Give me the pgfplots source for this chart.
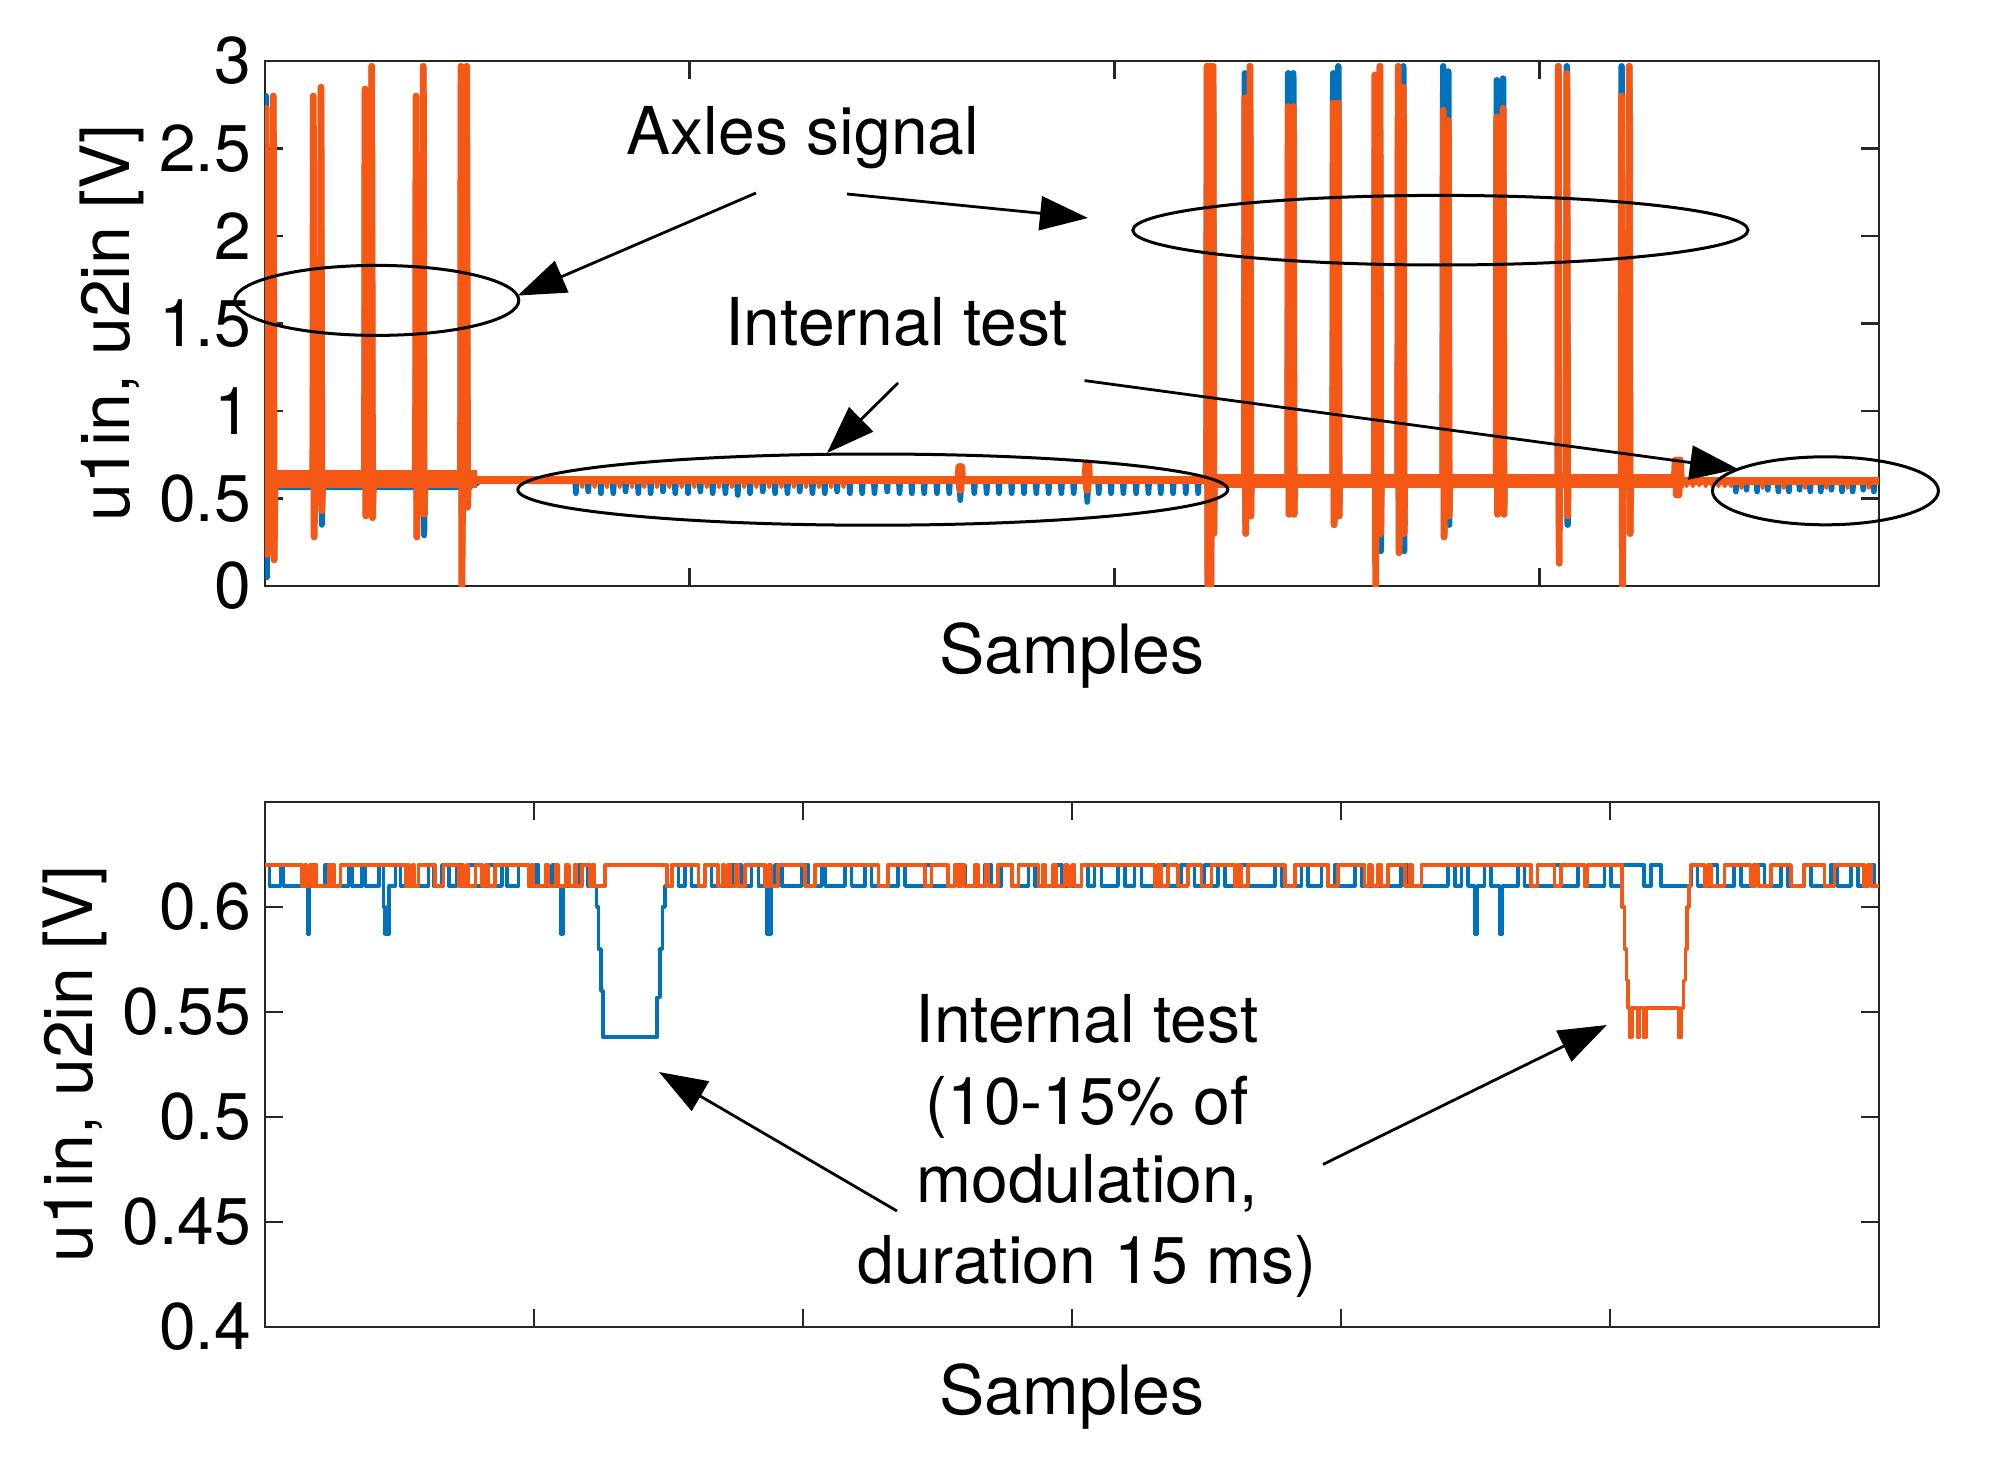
\documentclass[border=0pt]{standalone}
\usepackage{fontspec}
\setmainfont{TeX Gyre Heros}
\usepackage{pgfplots}
\pgfplotsset{compat=1.18}
\usetikzlibrary{arrows.meta}
\definecolor{mblue}{RGB}{0,114,189}
\definecolor{morange}{RGB}{245,88,20}
\newcommand{\fs}{\fontsize{16.5}{19.8}\selectfont}
\pgfplotsset{
 sigaxis/.style={
  scale only axis, width=403.5pt, height=131.25pt, anchor=south west,
  axis line style={line width=0.7pt, black!85},
  every tick/.style={line width=0.7pt, black!85},
  major tick length=4.5pt,
  tick align=inside,
  ticklabel style={font=\fs, text=black},
  /pgf/number format/assume math mode=true,
  xlabel={Samples},
  xlabel style={at={(axis description cs:0.5,0)}, anchor=north, inner sep=0pt, yshift=-9pt, font=\fontsize{17}{20}\selectfont},
  ylabel={u1in, u2in [V]},
  ylabel style={font=\fontsize{17}{20}\selectfont},
  ylabel shift=-3pt,
  every axis plot/.append style={line join=round, line cap=round},
 }
}
\begin{document}
\begin{tikzpicture}[x=1pt,y=1pt]
\useasboundingbox (0,0) rectangle (497.25,365);
% ---------------- top axis ----------------
\begin{axis}[sigaxis, at={(66.25pt,218.5pt)},
  xmin=0, xmax=3.8, ymin=0, ymax=3,
  xtick={1,2,3}, xticklabels={,,},
  ytick={0,0.5,1,1.5,2,2.5,3}, yticklabels={0,0.5,1,1.5,2,2.5,3}]
% blue, left group
\addplot[mblue, line width=1.5pt] coordinates {
(0,0.6)(0.0024,2.8)(0.0044,0.05)(0.0064,0.565)
(0.0185,0.565)(0.0195,2.8)(0.0215,0.15)(0.0235,0.565)
(0.1127,0.565)(0.1137,2.37)(0.1157,0.35)(0.1177,0.565)
(0.1308,0.565)(0.1318,2.85)(0.1338,0.35)(0.1358,0.565)
(0.2344,0.565)(0.2354,2.84)(0.2374,0.40)(0.2394,0.565)
(0.2502,0.565)(0.2512,2.97)(0.2532,0.40)(0.2552,0.565)
(0.3545,0.565)(0.3555,2.14)(0.3575,0.28)(0.3595,0.565)
(0.3717,0.565)(0.3727,2.97)(0.3747,0.29)(0.3767,0.565)
(0.4605,0.565)(0.4615,2.97)(0.4635,0.0)(0.4655,0.565)
(0.4739,0.565)(0.4749,2.97)(0.4769,0.45)(0.4789,0.565)(0.50,0.59)};
% blue, middle comb
\addplot[mblue, line width=1.4pt] coordinates {
(0.50,0.60)
(0.730,0.60)(0.732,0.53)(0.734,0.60)(0.759,0.60)(0.761,0.54)(0.763,0.60)
(0.789,0.60)(0.791,0.53)(0.793,0.60)(0.818,0.60)(0.820,0.53)(0.822,0.60)
(0.847,0.60)(0.849,0.54)(0.851,0.60)(0.877,0.60)(0.879,0.53)(0.881,0.60)
(0.906,0.60)(0.908,0.53)(0.910,0.60)(0.935,0.60)(0.937,0.54)(0.939,0.60)
(0.964,0.60)(0.966,0.53)(0.968,0.60)(0.994,0.60)(0.996,0.53)(0.998,0.60)
(1.023,0.60)(1.025,0.54)(1.027,0.60)(1.052,0.60)(1.054,0.53)(1.056,0.60)
(1.082,0.60)(1.084,0.53)(1.086,0.60)(1.111,0.60)(1.113,0.52)(1.115,0.60)
(1.140,0.60)(1.142,0.53)(1.144,0.60)(1.170,0.60)(1.172,0.54)(1.174,0.60)
(1.199,0.60)(1.201,0.53)(1.203,0.60)(1.228,0.60)(1.230,0.53)(1.232,0.60)
(1.257,0.60)(1.259,0.54)(1.261,0.60)(1.287,0.60)(1.289,0.53)(1.291,0.60)
(1.316,0.60)(1.318,0.53)(1.320,0.60)(1.345,0.60)(1.347,0.54)(1.349,0.60)
(1.375,0.60)(1.377,0.53)(1.379,0.60)(1.404,0.60)(1.406,0.53)(1.408,0.60)
(1.433,0.60)(1.435,0.53)(1.437,0.60)(1.463,0.60)(1.465,0.54)(1.467,0.60)
(1.492,0.60)(1.494,0.53)(1.496,0.60)(1.521,0.60)(1.523,0.53)(1.525,0.60)
(1.550,0.60)(1.552,0.53)(1.554,0.60)(1.580,0.60)(1.582,0.53)(1.584,0.60)
(1.609,0.60)(1.611,0.53)(1.613,0.60)(1.634,0.60)(1.637,0.49)(1.640,0.60)
(1.668,0.60)(1.670,0.53)(1.672,0.60)(1.697,0.60)(1.699,0.53)(1.701,0.60)
(1.726,0.60)(1.728,0.53)(1.730,0.60)(1.756,0.60)(1.758,0.53)(1.760,0.60)
(1.785,0.60)(1.787,0.53)(1.789,0.60)(1.814,0.60)(1.816,0.53)(1.818,0.60)
(1.843,0.60)(1.845,0.53)(1.847,0.60)(1.873,0.60)(1.875,0.53)(1.877,0.60)
(1.902,0.60)(1.904,0.53)(1.906,0.60)(1.933,0.60)(1.936,0.48)(1.939,0.60)
(1.961,0.60)(1.963,0.53)(1.965,0.60)(1.990,0.60)(1.992,0.53)(1.994,0.60)
(2.019,0.60)(2.021,0.53)(2.023,0.60)(2.049,0.60)(2.051,0.53)(2.053,0.60)
(2.078,0.60)(2.080,0.53)(2.082,0.60)(2.107,0.60)(2.109,0.53)(2.111,0.60)
(2.136,0.60)(2.138,0.53)(2.140,0.60)(2.166,0.60)(2.168,0.53)(2.170,0.60)
(2.195,0.60)(2.197,0.53)(2.199,0.60)(2.21,0.60)};
% blue, right group
\addplot[mblue, line width=1.6pt] coordinates {
(2.21,0.60)
(2.217,0.60)(2.218,2.97)(2.220,0.0)(2.221,0.60)
(2.224,0.60)(2.225,2.97)(2.227,0.0)(2.228,0.60)
(2.231,0.60)(2.232,2.97)(2.234,0.30)(2.235,0.60)
(2.306,0.60)(2.307,2.93)(2.309,0.30)(2.310,0.60)
(2.318,0.60)(2.319,2.97)(2.321,0.40)(2.322,0.60)
(2.408,0.60)(2.409,2.93)(2.411,0.41)(2.412,0.60)
(2.420,0.60)(2.421,2.93)(2.423,0.41)(2.424,0.60)
(2.514,0.60)(2.515,2.93)(2.517,0.35)(2.518,0.60)
(2.526,0.60)(2.527,2.97)(2.529,0.40)(2.530,0.60)
(2.612,0.60)(2.613,2.50)(2.615,0.12)(2.616,0.60)
(2.624,0.60)(2.625,2.97)(2.627,0.20)(2.628,0.60)
(2.667,0.60)(2.668,2.52)(2.670,0.22)(2.671,0.60)
(2.679,0.60)(2.680,2.97)(2.682,0.20)(2.683,0.60)
(2.773,0.60)(2.774,2.97)(2.776,0.28)(2.777,0.60)
(2.785,0.60)(2.786,2.94)(2.788,0.35)(2.789,0.60)
(2.899,0.60)(2.900,2.89)(2.902,0.41)(2.903,0.60)
(2.914,0.60)(2.915,2.90)(2.917,0.41)(2.918,0.60)
(3.044,0.60)(3.045,2.97)(3.047,0.35)(3.048,0.60)
(3.064,0.60)(3.065,2.97)(3.067,0.35)(3.068,0.60)
(3.193,0.60)(3.194,2.97)(3.196,0.04)(3.197,0.60)
(3.211,0.60)(3.212,2.97)(3.214,0.30)(3.215,0.60)
(3.46,0.60)};
% blue, right comb
\addplot[mblue, line width=1.4pt] coordinates {
(3.44,0.60)
(3.461,0.60)(3.463,0.54)(3.465,0.60)(3.486,0.60)(3.488,0.55)(3.490,0.60)
(3.511,0.60)(3.513,0.54)(3.515,0.60)(3.536,0.60)(3.538,0.55)(3.540,0.60)
(3.561,0.60)(3.563,0.54)(3.565,0.60)(3.586,0.60)(3.588,0.54)(3.590,0.60)
(3.611,0.60)(3.613,0.55)(3.615,0.60)(3.636,0.60)(3.638,0.54)(3.640,0.60)
(3.661,0.60)(3.663,0.54)(3.665,0.60)(3.686,0.60)(3.688,0.55)(3.690,0.60)
(3.711,0.60)(3.713,0.54)(3.715,0.60)(3.736,0.60)(3.738,0.54)(3.740,0.60)
(3.761,0.60)(3.763,0.55)(3.765,0.60)(3.786,0.60)(3.788,0.54)(3.790,0.60)
(3.8,0.60)};
% orange, left band and spikes
\addplot[morange, line width=4.4pt, line cap=butt] coordinates {(0,0.61)(0.50,0.61)};
\addplot[morange, line width=1.7pt] coordinates {
(0,0.61)(0.0024,2.73)(0.0044,0.18)(0.0064,0.61)
(0.0185,0.61)(0.0195,2.80)(0.0215,0.15)(0.0235,0.61)
(0.1127,0.61)(0.1137,2.80)(0.1157,0.28)(0.1177,0.61)
(0.1308,0.61)(0.1318,2.85)(0.1338,0.43)(0.1358,0.61)
(0.2344,0.61)(0.2354,2.84)(0.2374,0.40)(0.2394,0.61)
(0.2502,0.61)(0.2512,2.97)(0.2532,0.39)(0.2552,0.61)
(0.3545,0.61)(0.3555,2.80)(0.3575,0.28)(0.3595,0.61)
(0.3717,0.61)(0.3727,2.97)(0.3747,0.41)(0.3767,0.61)
(0.4605,0.61)(0.4615,2.97)(0.4635,0.0)(0.4655,0.61)
(0.4739,0.61)(0.4749,2.97)(0.4769,0.45)(0.4789,0.61)(0.50,0.61)};
% orange, middle small ticks
\addplot[morange, line width=1pt] coordinates {
(0.745,0.60)(0.747,0.565)(0.749,0.60)(0.774,0.60)(0.776,0.565)(0.778,0.60)
(0.803,0.60)(0.805,0.565)(0.807,0.60)(0.833,0.60)(0.835,0.565)(0.837,0.60)
(0.862,0.60)(0.864,0.565)(0.866,0.60)(0.891,0.60)(0.893,0.565)(0.895,0.60)
(0.921,0.60)(0.923,0.565)(0.925,0.60)(0.950,0.60)(0.952,0.565)(0.954,0.60)
(0.979,0.60)(0.981,0.565)(0.983,0.60)(1.009,0.60)(1.011,0.565)(1.013,0.60)
(1.038,0.60)(1.040,0.565)(1.042,0.60)(1.067,0.60)(1.069,0.565)(1.071,0.60)
(1.097,0.60)(1.099,0.565)(1.101,0.60)(1.126,0.60)(1.128,0.565)(1.130,0.60)
(1.155,0.60)(1.157,0.565)(1.159,0.60)(1.185,0.60)(1.187,0.565)(1.189,0.60)
(1.214,0.60)(1.216,0.565)(1.218,0.60)(1.243,0.60)(1.245,0.565)(1.247,0.60)
(1.272,0.60)(1.274,0.565)(1.276,0.60)(1.302,0.60)(1.304,0.565)(1.306,0.60)
(1.331,0.60)(1.333,0.565)(1.335,0.60)(1.360,0.60)(1.362,0.565)(1.364,0.60)};
% orange, middle baseline with two blips
\addplot[morange, line width=2pt] coordinates {
(0.48,0.605)(1.633,0.605)(1.635,0.68)(1.637,0.55)(1.639,0.68)(1.641,0.605)
(1.932,0.605)(1.934,0.70)(1.936,0.55)(1.938,0.70)(1.940,0.605)(2.22,0.605)};
% orange, right band and spikes
\addplot[morange, line width=3.3pt, line cap=butt] coordinates {(2.21,0.60)(3.34,0.60)};
\addplot[morange, line width=1.7pt] coordinates {
(2.21,0.60)
(2.217,0.60)(2.218,2.97)(2.220,0.0)(2.221,0.60)
(2.224,0.60)(2.225,2.97)(2.227,0.0)(2.228,0.60)
(2.231,0.60)(2.232,2.97)(2.234,0.30)(2.235,0.60)
(2.306,0.60)(2.307,2.79)(2.309,0.30)(2.310,0.60)
(2.318,0.60)(2.319,2.97)(2.321,0.40)(2.322,0.60)
(2.408,0.60)(2.409,2.74)(2.411,0.41)(2.412,0.60)
(2.420,0.60)(2.421,2.74)(2.423,0.41)(2.424,0.60)
(2.514,0.60)(2.515,2.76)(2.517,0.35)(2.518,0.60)
(2.526,0.60)(2.527,2.76)(2.529,0.40)(2.530,0.60)
(2.612,0.60)(2.613,2.92)(2.615,0.0)(2.616,0.60)
(2.624,0.60)(2.625,2.97)(2.627,0.30)(2.628,0.60)
(2.667,0.60)(2.668,2.97)(2.670,0.19)(2.671,0.60)
(2.679,0.60)(2.680,2.85)(2.682,0.30)(2.683,0.60)
(2.773,0.60)(2.774,2.72)(2.776,0.28)(2.777,0.60)
(2.785,0.60)(2.786,2.66)(2.788,0.40)(2.789,0.60)
(2.899,0.60)(2.900,2.68)(2.902,0.41)(2.903,0.60)
(2.914,0.60)(2.915,2.73)(2.917,0.41)(2.918,0.60)
(3.044,0.60)(3.045,2.97)(3.047,0.13)(3.048,0.60)
(3.064,0.60)(3.065,2.93)(3.067,0.40)(3.068,0.60)
(3.193,0.60)(3.194,2.80)(3.196,0.0)(3.197,0.60)
(3.211,0.60)(3.212,2.97)(3.214,0.30)(3.215,0.60)
(3.318,0.60)(3.320,0.72)(3.323,0.52)(3.326,0.72)(3.329,0.52)(3.332,0.72)(3.335,0.60)(3.34,0.60)};
% orange, right tail
\addplot[morange, line width=1pt] coordinates {
(3.345,0.60)(3.347,0.57)(3.349,0.60)(3.360,0.60)(3.362,0.57)(3.364,0.60)
(3.375,0.60)(3.377,0.575)(3.379,0.60)(3.390,0.60)(3.392,0.57)(3.394,0.60)
(3.405,0.60)(3.407,0.575)(3.409,0.60)(3.420,0.60)(3.422,0.57)(3.424,0.60)
(3.435,0.60)(3.437,0.57)(3.439,0.60)(3.450,0.60)(3.452,0.57)(3.454,0.60)
(3.474,0.60)(3.476,0.56)(3.478,0.60)(3.524,0.60)(3.526,0.56)(3.528,0.60)
(3.574,0.60)(3.576,0.56)(3.578,0.60)(3.624,0.60)(3.626,0.56)(3.628,0.60)
(3.674,0.60)(3.676,0.56)(3.678,0.60)(3.724,0.60)(3.726,0.56)(3.728,0.60)
(3.774,0.60)(3.776,0.56)(3.778,0.60)};
\addplot[morange, line width=2pt] coordinates {(3.33,0.60)(3.8,0.60)};
\end{axis}
% ---------------- bottom axis ----------------
\begin{axis}[sigaxis, at={(66.25pt,33.25pt)},
  xmin=0, xmax=6, ymin=0.4, ymax=0.65,
  xtick={1,2,3,4,5}, xticklabels={,,,,},
  ytick={0.4,0.45,0.5,0.55,0.6}, yticklabels={0.4,0.45,0.5,0.55,0.6}]
\addplot[mblue, line width=0.9pt, const plot] coordinates {
(0,0.62)(0.016,0.61)(0.057,0.62)(0.069,0.61)
(0.158,0.587)(0.166,0.61)(0.175,0.62)(0.187,0.61)
(0.224,0.62)(0.237,0.61)(0.311,0.62)(0.323,0.61)
(0.361,0.62)(0.373,0.61)(0.423,0.62)(0.440,0.60)(0.447,0.587)(0.462,0.61)
(0.485,0.62)(0.503,0.61)(0.608,0.62)(0.627,0.61)
(0.658,0.62)(0.683,0.61)(0.714,0.62)(0.732,0.61)
(0.757,0.62)(0.782,0.61)(0.831,0.62)(0.856,0.61)
(0.881,0.62)(0.900,0.61)(0.943,0.62)(0.980,0.61)
(1.005,0.62)(1.017,0.61)(1.067,0.62)(1.079,0.61)
(1.100,0.587)(1.108,0.61)(1.166,0.62)(1.200,0.61)
(1.233,0.60)(1.240,0.58)(1.249,0.56)(1.256,0.538)(1.458,0.557)(1.468,0.58)(1.477,0.60)(1.487,0.61)
(1.512,0.62)(1.537,0.61)(1.561,0.62)(1.586,0.61)
(1.636,0.62)(1.660,0.61)(1.735,0.62)(1.772,0.61)
(1.809,0.62)(1.834,0.61)(1.866,0.587)(1.880,0.61)
(1.896,0.62)(1.921,0.61)(1.995,0.62)(2.020,0.61)
(2.069,0.62)(2.082,0.61)(2.156,0.62)(2.181,0.61)
(2.230,0.62)(2.255,0.61)(2.354,0.62)(2.379,0.61)
(2.453,0.62)(2.478,0.61)(2.565,0.62)(2.602,0.61)
(2.676,0.62)(2.701,0.61)(2.738,0.62)(2.776,0.61)
(2.838,0.62)(2.862,0.61)(2.937,0.62)(2.962,0.61)
(3.035,0.62)(3.059,0.61)(3.084,0.62)(3.109,0.61)
(3.171,0.62)(3.196,0.61)(3.233,0.62)(3.258,0.61)
(3.332,0.62)(3.357,0.61)(3.406,0.62)(3.456,0.61)
(3.493,0.62)(3.518,0.61)(3.543,0.62)(3.568,0.61)
(3.630,0.62)(3.655,0.61)(3.754,0.62)(3.779,0.61)
(3.853,0.62)(3.877,0.61)(3.927,0.62)(3.952,0.61)
(3.977,0.62)(3.989,0.61)(4.051,0.62)(4.076,0.61)
(4.224,0.62)(4.249,0.61)(4.398,0.62)(4.423,0.61)
(4.448,0.62)(4.472,0.61)(4.496,0.587)(4.508,0.61)
(4.533,0.62)(4.558,0.61)(4.589,0.587)(4.601,0.61)
(4.657,0.62)(4.682,0.61)(4.793,0.62)(4.818,0.61)
(4.880,0.62)(4.905,0.61)(4.979,0.62)(5.004,0.61)
(5.047,0.62)(5.127,0.61)(5.152,0.62)(5.190,0.61)
(5.301,0.62)(5.326,0.61)(5.375,0.62)(5.400,0.61)
(5.462,0.62)(5.487,0.61)(5.536,0.62)(5.574,0.61)
(5.636,0.62)(5.660,0.61)(5.722,0.62)(5.747,0.61)
(5.821,0.62)(5.846,0.61)(5.896,0.62)(5.921,0.61)
(5.958,0.62)(5.983,0.61)(6.0,0.61)};
\addplot[morange, line width=0.9pt, const plot] coordinates {
(0,0.62)
(0.138,0.61)(0.148,0.62)(0.155,0.61)(0.168,0.62)(0.176,0.61)(0.186,0.62)(0.192,0.61)(0.237,0.62)
(0.243,0.61)(0.250,0.62)(0.258,0.61)(0.280,0.62)
(0.522,0.61)(0.530,0.62)(0.536,0.61)(0.548,0.62)(0.553,0.61)(0.571,0.62)
(0.633,0.61)(0.664,0.62)
(0.720,0.61)(0.730,0.62)(0.738,0.61)(0.750,0.62)(0.757,0.61)(0.782,0.62)
(0.807,0.61)(0.820,0.62)(0.828,0.61)(0.856,0.62)
(0.980,0.61)(0.990,0.62)(0.998,0.61)(1.042,0.62)
(1.054,0.61)(1.080,0.62)(1.090,0.61)(1.120,0.62)(1.130,0.61)(1.150,0.62)(1.158,0.61)(1.178,0.62)
(1.209,0.61)(1.218,0.62)(1.225,0.61)(1.265,0.62)
(1.494,0.61)(1.512,0.62)
(1.611,0.61)(1.636,0.62)
(1.685,0.61)(1.700,0.62)(1.708,0.61)(1.722,0.62)(1.730,0.61)(1.750,0.62)(1.758,0.61)(1.785,0.62)
(1.859,0.61)(1.872,0.62)(1.880,0.61)(1.908,0.62)
(2.007,0.61)(2.045,0.62)
(2.280,0.61)(2.317,0.62)
(2.453,0.61)(2.478,0.62)
(2.540,0.61)(2.565,0.62)
(2.577,0.61)(2.590,0.62)(2.600,0.61)(2.640,0.62)(2.650,0.61)(2.680,0.62)(2.690,0.61)(2.726,0.62)
(2.776,0.61)(2.801,0.62)
(2.875,0.61)(2.890,0.62)(2.900,0.61)(2.930,0.62)(2.940,0.61)(2.974,0.62)
(2.985,0.61)(3.000,0.62)(3.010,0.61)(3.035,0.62)
(3.307,0.61)(3.320,0.62)(3.330,0.61)(3.357,0.62)
(3.394,0.61)(3.431,0.62)
(3.481,0.61)(3.518,0.62)
(3.605,0.61)(3.618,0.62)(3.628,0.61)(3.655,0.62)
(3.791,0.61)(3.828,0.62)
(3.952,0.61)(3.989,0.62)
(4.088,0.61)(4.105,0.62)(4.115,0.61)(4.138,0.62)
(4.150,0.61)(4.175,0.62)
(4.237,0.61)(4.255,0.62)(4.265,0.61)(4.299,0.62)
(4.706,0.61)(4.731,0.62)
(4.793,0.61)(4.818,0.62)
(4.905,0.61)(4.917,0.62)
(5.044,0.60)(5.054,0.58)(5.062,0.565)(5.068,0.552)(5.072,0.538)(5.082,0.552)(5.102,0.538)(5.110,0.552)(5.124,0.538)(5.134,0.552)(5.254,0.538)(5.266,0.552)(5.273,0.565)(5.280,0.58)(5.287,0.60)(5.293,0.61)(5.300,0.62)
(5.351,0.61)(5.365,0.62)(5.375,0.61)(5.425,0.62)
(5.524,0.61)(5.540,0.62)(5.550,0.61)(5.599,0.62)
(5.673,0.61)(5.722,0.62)
(5.797,0.61)(5.834,0.62)
(5.945,0.61)(5.960,0.62)(5.970,0.61)(6.0,0.61)};
\end{axis}
% ---------------- annotations ----------------
\begin{scope}[line width=0.75pt]
\draw (94.2,289.9) ellipse [x radius=35.5pt, y radius=8.75pt];
\draw (360.1,307.45) ellipse [x radius=76.9pt, y radius=8.7pt];
\draw (218.2,242.6) ellipse [x radius=88.75pt, y radius=8.9pt];
\draw (456.35,242.3) ellipse [x radius=28.25pt, y radius=8.5pt];
\end{scope}
\begin{scope}[line width=0.7pt, -{Triangle[length=12pt,width=8.5pt]}]
\draw (189,316.75) -- (129.4,291.1);
\draw (211.75,316.5) -- (272,310.5);
\draw (224.5,269.25) -- (206.75,251.75);
\draw (271.15,269.85) -- (434.5,247.75);
\draw (224.25,62.25) -- (164.75,97);
\draw (330.75,73.9) -- (401.7,108.75);
\end{scope}
\node[anchor=base, inner sep=0pt, font=\fs] at (200.75,326.25) {Axles signal};
\node[anchor=base, inner sep=0pt, font=\fs] at (224.2,278.75) {Internal test};
\node[anchor=base, inner sep=0pt, font=\fs] at (271.75,104.3) {Internal test};
\node[anchor=base, inner sep=0pt, font=\fs] at (271.75,84) {(10-15\% of};
\node[anchor=base, inner sep=0pt, font=\fs] at (271.75,64.4) {modulation,};
\node[anchor=base, inner sep=0pt, font=\fs] at (271.75,44.1) {duration 15 ms)};
\end{tikzpicture}
\end{document}
